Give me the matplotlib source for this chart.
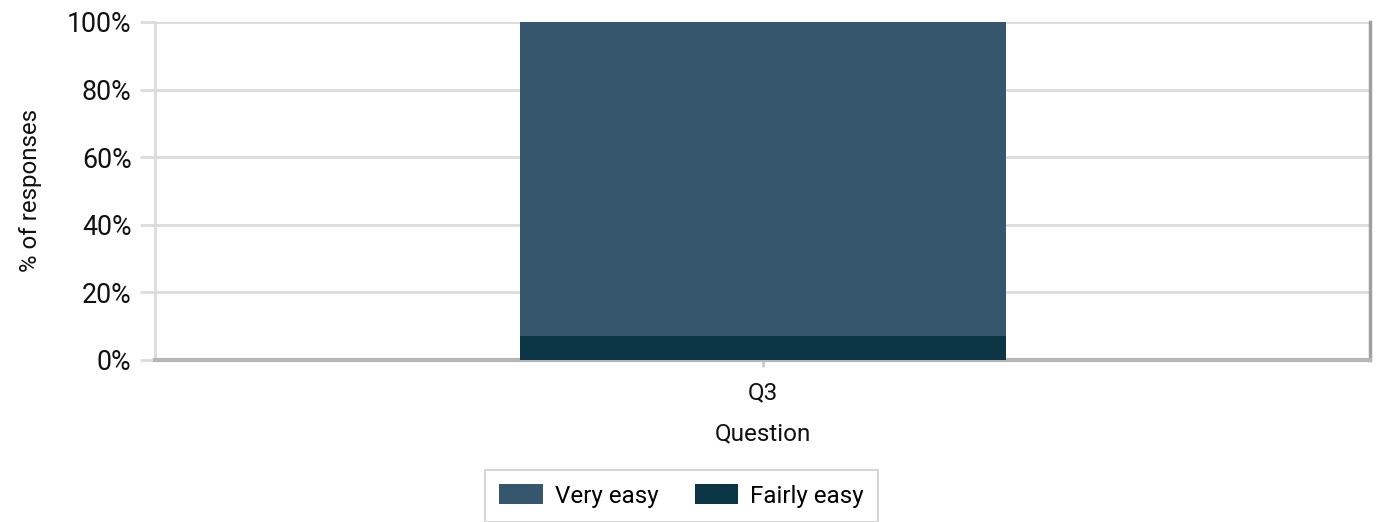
import matplotlib
matplotlib.use("Agg")
import matplotlib.pyplot as plt
from matplotlib.ticker import PercentFormatter

plt.rcParams['font.family'] = ['Roboto', 'DejaVu Sans']

categories = ["Q3"]
series_names = ["Very easy", "Fairly easy"]
fairly_easy = [7.1]
very_easy = [92.9]
colors = {"Very easy": "#36566e", "Fairly easy": "#0b3445"}
yticks = [0, 20, 40, 60, 80, 100]

fig = plt.figure(figsize=(13.78, 5.22), dpi=100)
ax = fig.add_axes([155/1378, 1 - 360/522, 1215/1378, 338/522])

x = list(range(len(categories)))
ax.bar(x, fairly_easy, width=0.4, color=colors["Fairly easy"], label="Fairly easy", zorder=3)
ax.bar(x, very_easy, width=0.4, bottom=fairly_easy, color=colors["Very easy"], label="Very easy", zorder=3)

ax.set_xlim(-0.5, 0.5)
ax.set_ylim(0, 100)
ax.set_yticks(yticks)
ax.yaxis.set_major_formatter(PercentFormatter(decimals=0))
ax.set_xticks(x)
ax.set_xticklabels(categories)

ax.grid(axis='y', color='#dcdcdc', linewidth=2, zorder=0)
ax.grid(axis='x', visible=False)

ax.spines['top'].set_visible(False)
ax.spines['left'].set_color('#dcdcdc')
ax.spines['left'].set_linewidth(2)
ax.spines['bottom'].set_color('#b5b5b5')
ax.spines['bottom'].set_linewidth(3)
ax.spines['right'].set_color('#a0a0a0')
ax.spines['right'].set_linewidth(2.5)

ax.tick_params(axis='y', length=11, width=2, color='#dcdcdc', labelsize=19.3, pad=6, labelcolor='#111111')
ax.tick_params(axis='x', length=5, width=2, color='#cccccc', labelsize=17.5, pad=10, labelcolor='#111111')

ax.set_xlabel("Question", fontsize=17.5, labelpad=13, color='#111111')
ax.set_ylabel("% of responses", fontsize=17.3, labelpad=18, color='#111111')

handles, labels = ax.get_legend_handles_labels()
order = [labels.index(n) for n in series_names]
leg = fig.legend([handles[i] for i in order], [labels[i] for i in order],
                 loc='center', bbox_to_anchor=(681.5/1378, 1 - 496/522), ncol=2,
                 fontsize=17.4, frameon=True, fancybox=False, edgecolor='#cccccc',
                 handlelength=1.8, handleheight=0.9, columnspacing=1.5, handletextpad=0.5,
                 borderpad=0.6, borderaxespad=0)
leg.get_frame().set_linewidth(1.5)
fig.canvas.draw()
# widen frame slightly on both sides to match reference padding
frame = leg.get_frame()
frame.set_x(frame.get_x() - 3)
frame.set_width(frame.get_width() + 13)

fig.savefig("out.png", dpi=100)
